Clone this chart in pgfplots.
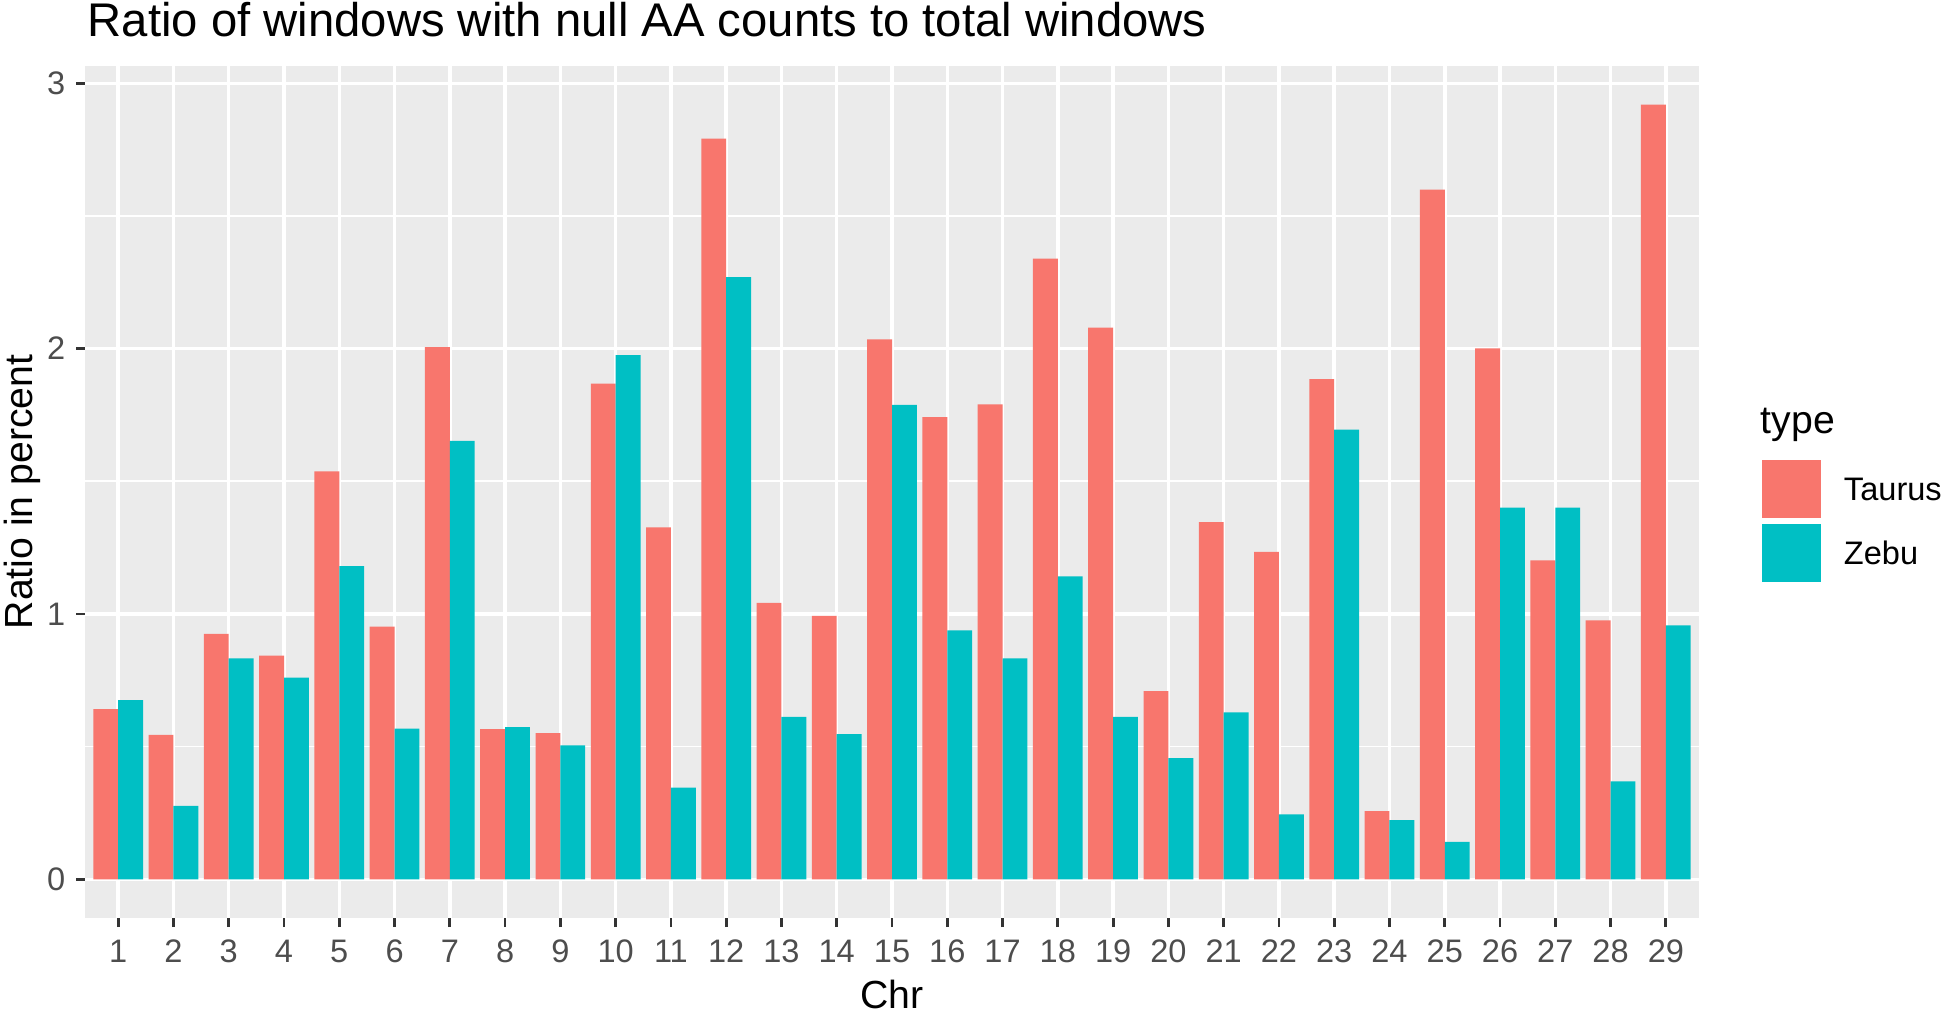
\documentclass[border=0pt]{standalone}
\usepackage{fontspec}
\setmainfont{Liberation Sans}
\usepackage{pgfplots}
\pgfplotsset{compat=1.18}
\definecolor{taurus}{HTML}{F8766D}
\definecolor{zebu}{HTML}{00BFC4}
\definecolor{ggbg}{HTML}{EBEBEB}
\definecolor{ggtick}{HTML}{333333}
\definecolor{ggtext}{HTML}{4D4D4D}
\begin{document}
\begin{tikzpicture}
\begin{axis}[
  name=ax, at={(0,0)}, anchor=south west,
  scale only axis,
  width=461.14pt, height=243.5pt,
  xmin=0.4, xmax=29.6, ymin=-0.146, ymax=3.066,
  ybar, bar width=0.45,
  axis background/.style={fill=ggbg},
  axis line style={draw=none},
  xtick={1,...,29}, ytick={0,1,2,3}, minor ytick={0.5,1.5,2.5},
  xmajorgrids, ymajorgrids, yminorgrids,
  major grid style={white, line width=1.0pt},
  minor grid style={white, line width=0.5pt},
  tick align=outside, tick pos=left,
  major tick length=2.57pt, minor tick length=0pt,
  tick style={ggtick, line width=0.8pt},
  ticklabel style={font=\fontsize{9.3}{11}\selectfont, text=ggtext},
  /pgf/number format/assume math mode=true,
  xticklabel style={anchor=north, inner sep=0pt, yshift=-3.4pt},
  yticklabel style={anchor=east, inner sep=0pt, xshift=-2.9pt},
  legend style={at={(rel axis cs:1,0)}, anchor=south west, xshift=17.99pt, yshift=96.0pt,
    draw=none, fill=none, inner sep=0pt, outer sep=0pt, row sep=1.7pt,
    font=\fontsize{9.3}{11}\selectfont,
    nodes={inner sep=0pt, text depth=0pt}},
  legend cell align=left,
  legend image code/.code={\fill[#1] (0pt,-8.28pt) rectangle (16.86pt,8.28pt);},
]
\addplot[fill=taurus, draw=none, bar shift=-0.225] coordinates {
(1,0.641) (2,0.544) (3,0.925) (4,0.843) (5,1.537) (6,0.952) (7,2.006) (8,0.566) (9,0.551) (10,1.868)
(11,1.326) (12,2.791) (13,1.042) (14,0.993) (15,2.035) (16,1.742) (17,1.790) (18,2.339) (19,2.079) (20,0.709)
(21,1.346) (22,1.234) (23,1.885) (24,0.257) (25,2.599) (26,2.001) (27,1.202) (28,0.976) (29,2.920)};
\addlegendentry{\hspace*{6.57pt}Taurus}
\addplot[fill=zebu, draw=none, bar shift=0.225] coordinates {
(1,0.675) (2,0.277) (3,0.833) (4,0.760) (5,1.180) (6,0.568) (7,1.652) (8,0.573) (9,0.505) (10,1.975)
(11,0.345) (12,2.269) (13,0.612) (14,0.547) (15,1.788) (16,0.938) (17,0.833) (18,1.142) (19,0.612) (20,0.457)
(21,0.629) (22,0.245) (23,1.695) (24,0.223) (25,0.141) (26,1.401) (27,1.401) (28,0.369) (29,0.957)};
\addlegendentry{\hspace*{6.57pt}Zebu}
\end{axis}
\node[anchor=base west, inner sep=0pt, font=\fontsize{13.5}{16}\selectfont] at (0.57pt,252.0pt) {Ratio of windows with null AA counts to total windows};
\node[anchor=base, inner sep=0pt, rotate=90, font=\fontsize{11.2}{13}\selectfont] at (-15.14pt,121.75pt) {Ratio in percent};
\node[anchor=base, inner sep=0pt, font=\fontsize{11.2}{13}\selectfont] at (230.57pt,-25.71pt) {Chr};
\node[anchor=base west, inner sep=0pt, font=\fontsize{11.2}{13}\selectfont] at (478.57pt,138.57pt) {type};
\pgfresetboundingbox
\path (-24.29pt,-26.86pt) rectangle (531.71pt,262.29pt);
\end{tikzpicture}
\end{document}
